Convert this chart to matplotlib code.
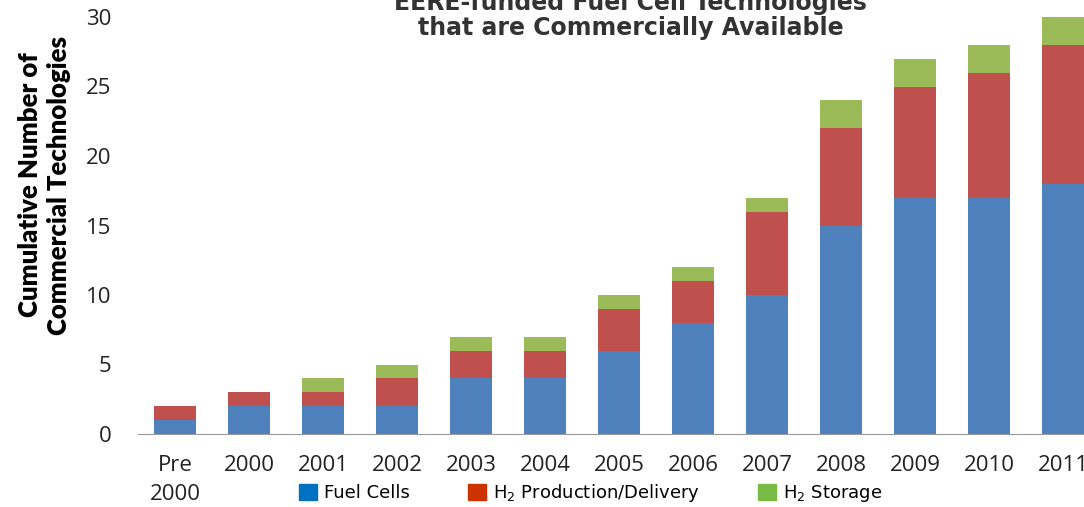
import numpy as np
import matplotlib.pyplot as plt
from matplotlib.patches import Patch

# cumulative counts per year, stacked by program area
years = ["Pre\n2000", "2000", "2001", "2002", "2003", "2004", "2005",
         "2006", "2007", "2008", "2009", "2010", "2011"]
fuel_cells = [1, 2, 2, 2, 4, 4, 6, 8, 10, 15, 17, 17, 18]
h2_production = [1, 1, 1, 2, 2, 2, 3, 3, 6, 7, 8, 9, 10]
h2_storage = [0, 0, 1, 1, 1, 1, 1, 1, 1, 2, 2, 2, 2]

c_fc, c_prod, c_stor = "#4F81BD", "#C0504D", "#9BBB59"

fig = plt.figure(figsize=(10.84, 5.07), dpi=100)
ax = fig.add_axes([138/1084, 73/507, 962/1084, 417/507])

x = np.arange(len(years))
fc = np.array(fuel_cells)
pr = np.array(h2_production)
st = np.array(h2_storage)
w = 0.57
ax.bar(x, fc, w, color=c_fc)
ax.bar(x, pr, w, bottom=fc, color=c_prod)
ax.bar(x, st, w, bottom=fc + pr, color=c_stor)

ax.set_xlim(-0.5, len(years) - 0.5)
ax.set_ylim(0, 30)
ax.set_yticks(range(0, 31, 5))
ax.set_xticks(x)
ax.set_xticklabels(years, fontsize=16, family="Open Sans", color="#222222",
                   linespacing=1.5, va="top")
for lab in ax.get_yticklabels():
    lab.set_fontsize(16)
    lab.set_family("Open Sans")
    lab.set_color("#222222")
ax.tick_params(length=0)
ax.tick_params(axis="x", pad=15)
ax.tick_params(axis="y", pad=19)
for s in ["top", "right", "left"]:
    ax.spines[s].set_visible(False)
ax.spines["bottom"].set_color("#999999")

ax.set_ylabel("Cumulative Number of\nCommercial Technologies", fontsize=18.5,
              fontweight="heavy", family="Lato", linespacing=1.25)
ax.yaxis.set_label_coords(-0.07, 0.597)

fig.text(0.582, 0.93, "EERE-funded Fuel Cell Technologies\nthat are Commercially Available",
         ha="center", va="baseline", fontsize=17, fontweight="bold",
         color="#333333", linespacing=1.1)

handles = [Patch(color="#0070C0"), Patch(color="#CC3300"), Patch(color="#77BB44")]
labels = ["Fuel Cells", "H$_2$ Production/Delivery", "H$_2$ Storage"]
fig.legend(handles, labels, loc="center", bbox_to_anchor=(0.545, 0.027),
           ncol=3, frameon=False, handlelength=1.0, handleheight=1.0,
           handletextpad=0.4, columnspacing=3.2,
           prop={"family": "DejaVu Sans", "size": 13})

fig.savefig("out.png", dpi=100)
